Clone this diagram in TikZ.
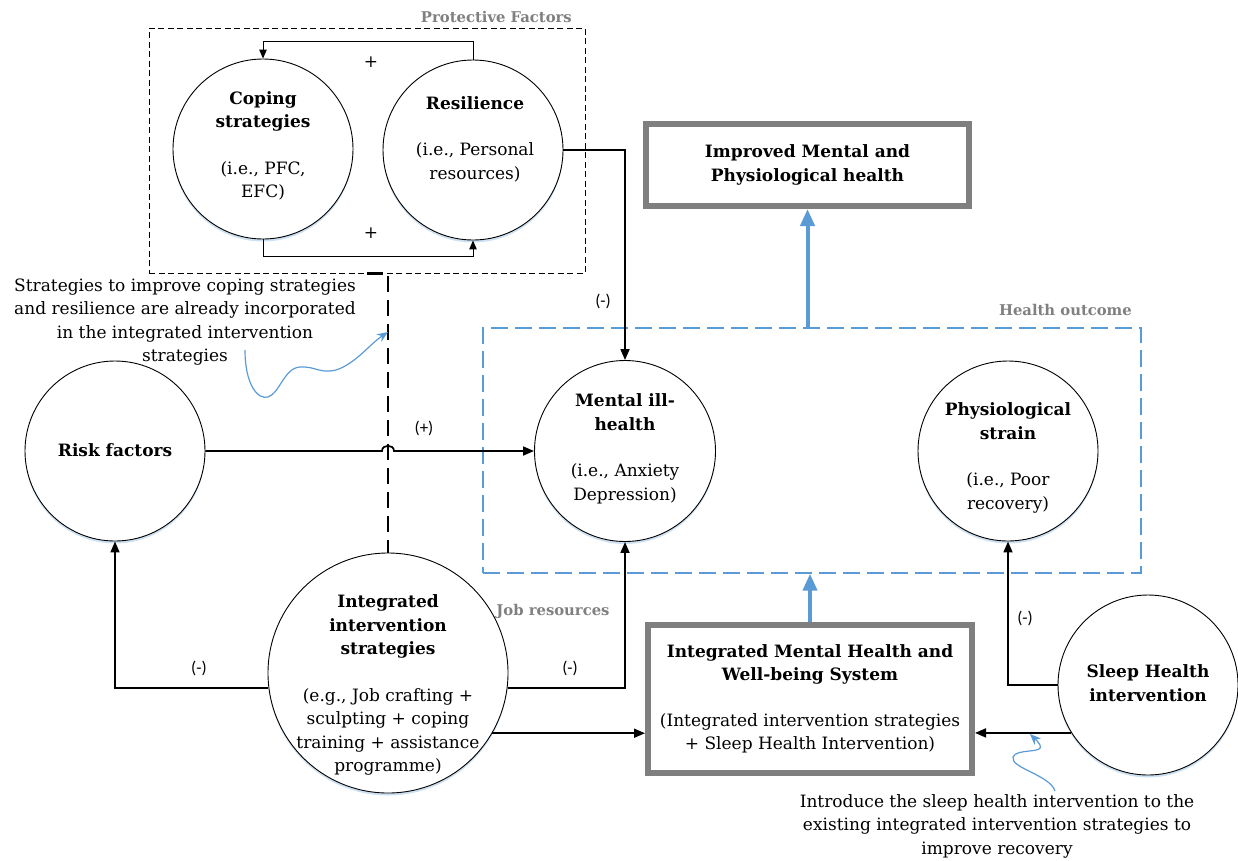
\documentclass[tikz,border=0pt]{standalone}
\usepackage{fontspec}
\setmainfont{DejaVu Serif}
\newfontfamily\calibfont{Carlito}
\usetikzlibrary{arrows.meta,shadows}

\definecolor{accblue}{HTML}{5B9BD5}
\definecolor{labgray}{HTML}{808080}
\definecolor{boxgray}{HTML}{7F7F7F}

\tikzset{
  every node/.style={font=\fontsize{17}{23.5}\selectfont},
  circ/.style={circle, draw, line width=0.9pt, fill=white, minimum size=#1, inner sep=0pt,
    drop shadow={shadow xshift=0pt, shadow yshift=-2.5pt, fill=accblue, opacity=0.3}},
  txt/.style={align=center, inner sep=0pt},
  ttl/.style={font=\fontsize{14.8}{18}\selectfont\bfseries, text=labgray, inner sep=0pt},
  sign/.style={font=\calibfont\fontsize{17}{20}\selectfont, inner sep=0pt},
  gbox/.style={draw=boxgray, line width=6pt, fill=white, align=center, inner sep=0pt},
  pfbox/.style={draw, line width=0.8pt, dash pattern=on 6pt off 3.5pt, inner sep=0pt},
  hobox/.style={draw=accblue, line width=1.3pt, dash pattern=on 17pt off 7pt, inner sep=0pt},
  arr/.style={line width=1.7pt, -{Triangle[length=11pt,width=9pt]}},
  looparr/.style={line width=1pt, -{Triangle[length=9pt,width=7.5pt]}},
  dashline/.style={line width=2.4pt, dash pattern=on 16pt off 8pt},
  bluearr/.style={draw=accblue, line width=4pt, -{Triangle[length=17pt,width=14pt]}, accblue},
  callout/.style={draw=accblue, line width=1.2pt, -{Stealth[length=11pt,width=9pt]}, accblue},
}

\begin{document}
\begin{tikzpicture}[x=1pt,y=-1pt]
\useasboundingbox (0,0) rectangle (1238,860);

% group frames
\node[pfbox, minimum width=436, minimum height=245] (pf) at (367,150.5) {};
\node[ttl, anchor=east] (pf-l) at (572,17) {Protective Factors};
\node[hobox, minimum width=658, minimum height=245] (ho) at (812,450.5) {};
\node[ttl, anchor=east] (ho-l) at (1132,310) {Health outcome};
\node[ttl] (jr-l) at (553,611) {Job resources};

% circles
\node[circ=180pt] (cope) at (263,149) {};
\node[txt] (cope-t) at (263,146) {\textbf{Coping}\\\textbf{strategies}\\[23pt](i.e., PFC,\\EFC)};
\node[circ=180pt] (res) at (473,150) {};
\node[txt] (res-t) at (475,139) {\textbf{Resilience}\\[23pt](i.e., Personal\\resources)};
\node[circ=181pt] (ment) at (625,451) {};
\node[txt] (ment-t) at (625,449) {\textbf{Mental ill-}\\\textbf{health}\\[23pt](i.e., Anxiety\\Depression)};
\node[circ=180pt] (phys) at (1008,451) {};
\node[txt] (phys-t) at (1008,458) {\textbf{Physiological}\\\textbf{strain}\\[23pt](i.e., Poor\\recovery)};
\node[circ=180pt] (risk) at (115,451) {};
\node[txt] (risk-t) at (115,450) {\textbf{Risk factors}};
\node[circ=240pt] (integ) at (388,673) {};
\node[txt] (integ-t) at (388,685) {\textbf{Integrated}\\\textbf{intervention}\\\textbf{strategies}\\[23pt](e.g., Job crafting +\\sculpting + coping\\training + assistance\\programme)};
\node[circ=180pt] (sleep) at (1148,685) {};
\node[txt] (sleep-t) at (1148,683) {\textbf{Sleep Health}\\\textbf{intervention}};

% outcome boxes
\node[gbox, minimum width=323, minimum height=82] (imp) at (807.5,165)
  {\textbf{Improved Mental and}\\\textbf{Physiological health}};
\node[gbox, minimum width=324, minimum height=148] (imhs) at (810,699)
  {\textbf{Integrated Mental Health and}\\\textbf{Well-being System}\\[22pt](Integrated intervention strategies\\+ Sleep Health Intervention)};

% feedback loop between coping and resilience
\draw[looparr] (res.north) -- ++(0,-18) -| (cope.north);
\draw[looparr] (cope.south) -- ++(0,17) -| (res.south);
\node[txt] (plus-a) at (371,62) {+};
\node[txt] (plus-b) at (371,233) {+};

% dashed link from protective factors to the interventions
\draw[dashline] (pf.south) -- (integ.north |- pf.south) -- (integ.north);

% causal links
\draw[arr] (res.east) -| (ment.north);
\node[sign] (s1) at (603,301) {(-)};
\draw[arr] (risk.east) -- (382,451) .. controls (382,444) and (394,444) .. (394,451) -- (ment.west);
\node[sign] (s2) at (424,428) {(+)};
\draw[arr] (integ.187.5) -| (risk.south);
\node[sign] (s3) at (199,668) {(-)};
\draw[arr] (integ.-7.5) -| (ment.south);
\node[sign] (s4) at (570,668) {(-)};
\draw[arr] (integ.-30) -- (integ.-30 -| imhs.west);
\draw[arr] (sleep.west) -| (phys.south);
\node[sign] (s5) at (1025,618) {(-)};
\draw[arr] (sleep.212) -- (sleep.212 -| imhs.east);

% system-level arrows
\draw[bluearr] (imp.south |- ho.north) -- (imp.south);
\draw[bluearr] (imhs.north) -- (imhs.north |- ho.south);

% annotations
\node[txt] (note1) at (185,322) {Strategies to improve coping strategies\\and resilience are already incorporated\\in the integrated intervention\\strategies};
\coordinate (n1a) at (245,350);
\coordinate (n1b) at (388,332);
\draw[callout] (n1a) .. controls (245,385) and (258,400) .. (268,397)
  .. controls (280,393) and (284,368) .. (300,367)
  .. controls (315,366) and (320,374) .. (336,370)
  .. controls (355,364) and (370,344) .. (n1b);

\node[txt] (note2) at (997,826) {Introduce the sleep health intervention to the\\existing integrated intervention strategies to\\improve recovery};
\coordinate (n2a) at (1055,791);
\coordinate (n2b) at (1030,734);
\draw[callout] (n2a) .. controls (1050,775) and (1010,768) .. (1013,757)
  .. controls (1016,748) and (1045,754) .. (1040,745)
  .. controls (1038,741) and (1034,738) .. (n2b);
\end{tikzpicture}
\end{document}
